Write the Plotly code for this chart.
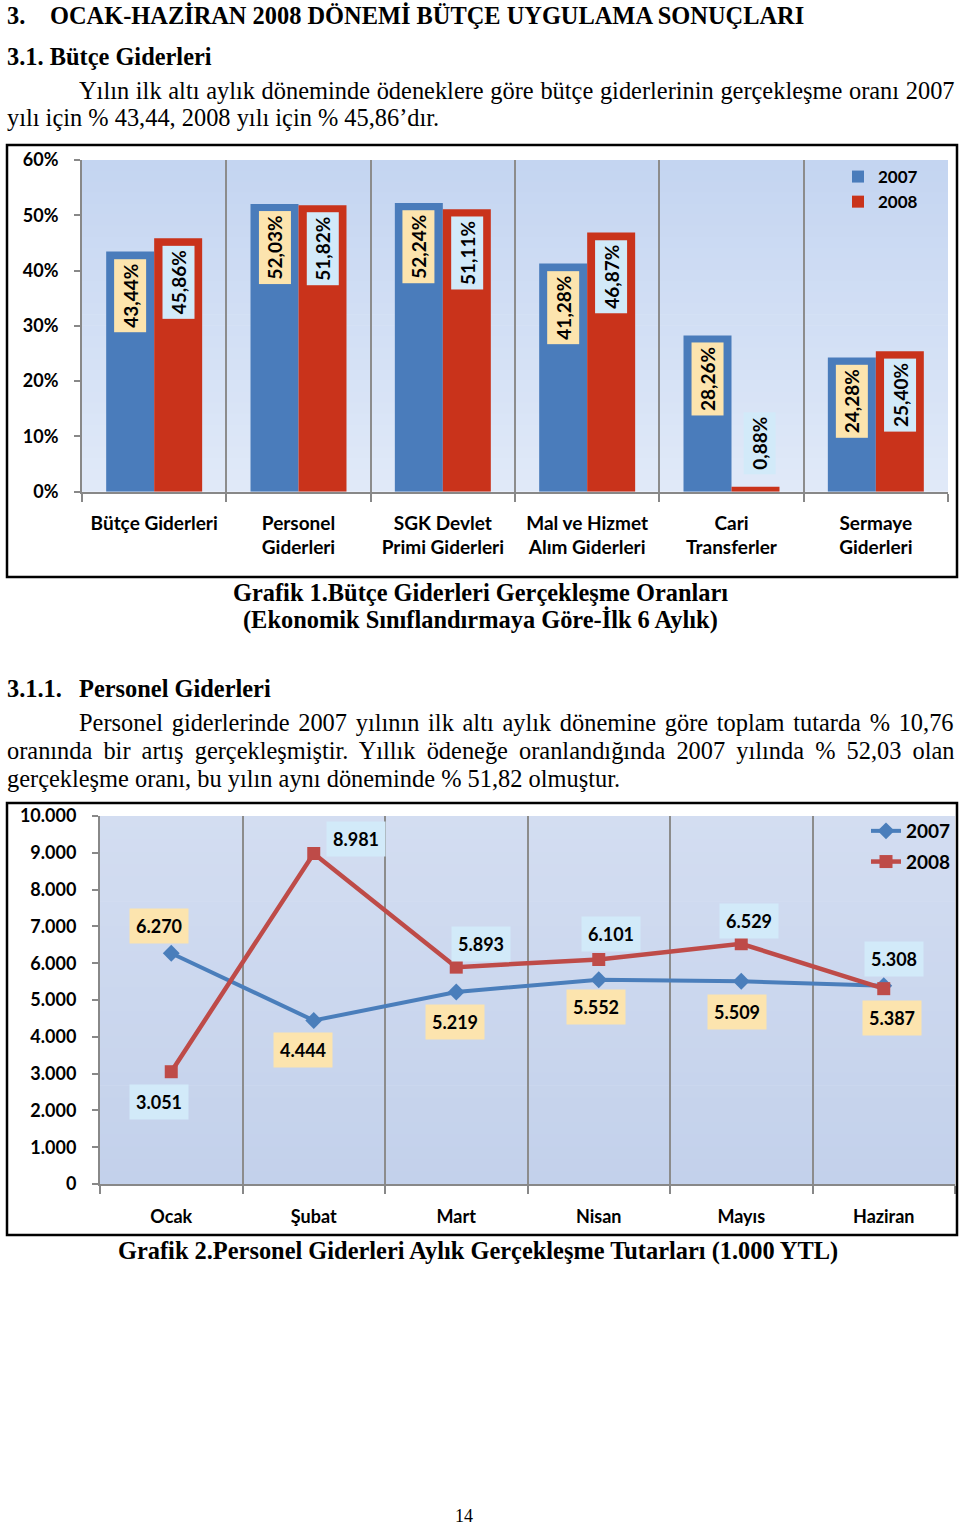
import plotly.graph_objects as go

W, H = 960, 1529

# ---------------- data ----------------
categories1 = ["Bütçe Giderleri", "Personel<br>Giderleri", "SGK Devlet<br>Primi Giderleri",
               "Mal ve Hizmet<br>Alım Giderleri", "Cari<br>Transferler", "Sermaye<br>Giderleri"]
rates_2007 = [43.44, 52.03, 52.24, 41.28, 28.26, 24.28]
rates_2008 = [45.86, 51.82, 51.11, 46.87, 0.88, 25.40]
pct_ticks = [0, 10, 20, 30, 40, 50, 60]
pct_tick_text = ["0%", "10%", "20%", "30%", "40%", "50%", "60%"]

months = ["Ocak", "Şubat", "Mart", "Nisan", "Mayıs", "Haziran"]
personel_2007 = [6270, 4444, 5219, 5552, 5509, 5387]
personel_2008 = [3051, 8981, 5893, 6101, 6529, 5308]
amount_ticks = [0, 1000, 2000, 3000, 4000, 5000, 6000, 7000, 8000, 9000, 10000]

# label offsets (pixels) for chart 2 data labels
off_2007 = [(-12, 27), (-11, -30), (-1, -30), (-3, -27), (-4, -31), (8, -32)]
off_2008 = [(-12, -30), (42, 15), (25, 23), (12, 25), (8, 23), (10, 30)]

SERIF = "Liberation Serif, Times New Roman, serif"
SANS = "Lato, Carlito, Calibri, sans-serif"
BLUE_BAR = "#4a7cbb"
RED_BAR = "#c9331b"
BLUE_LINE = "#4a7ebb"
RED_LINE = "#be4b48"
LBL_Y = "#fce4ae"
LBL_B = "#d2eaf9"
TXT = 24.4


def px(x):
    return x / W


def py(y):
    return 1 - y / H


def tr_num(v):
    return f"{v:,}".replace(",", ".")


fig = go.Figure()

# ---------------- chart 1 (bars) ----------------
fig.add_trace(go.Bar(x=categories1, y=rates_2007, name="2007", marker=dict(color=BLUE_BAR, line=dict(width=0)),
                     xaxis="x", yaxis="y", legend="legend"))
fig.add_trace(go.Bar(x=categories1, y=rates_2008, name="2008", marker=dict(color=RED_BAR, line=dict(width=0)),
                     xaxis="x", yaxis="y", legend="legend"))

annotations = []
for vals, shift, bg in [(rates_2007, -24, LBL_Y), (rates_2008, 24, LBL_B)]:
    for c, v in zip(categories1, vals):
        label = f"{v:.2f}".replace(".", ",") + "%"
        inside = v > 8
        annotations.append(dict(x=c, y=v, xref="x", yref="y",
                                xshift=shift if inside else shift + 4,
                                yshift=-7 if inside else 12,
                                yanchor="top" if inside else "bottom", xanchor="center",
                                textangle=-90, text=label,
                                showarrow=False, bgcolor=bg, borderpad=4,
                                font=dict(family=SANS, size=19, color="black", weight="bold")))

# ---------------- chart 2 (lines) ----------------
fig.add_trace(go.Scatter(x=months, y=personel_2007, name="2007", mode="lines+markers",
                         line=dict(color=BLUE_LINE, width=4),
                         marker=dict(symbol="diamond", size=13, color=BLUE_LINE),
                         xaxis="x2", yaxis="y2", legend="legend2", legendgroup="a"))
fig.add_trace(go.Scatter(x=months, y=personel_2008, name="2008", mode="lines+markers",
                         line=dict(color=RED_LINE, width=4.5),
                         marker=dict(symbol="square", size=13, color=RED_LINE),
                         xaxis="x2", yaxis="y2", legend="legend2", legendgroup="b"))

for vals, offs, bg in [(personel_2007, off_2007, LBL_Y), (personel_2008, off_2008, LBL_B)]:
    for m, v, (dx, dy) in zip(months, vals, offs):
        annotations.append(dict(x=m, y=v, xref="x2", yref="y2", xshift=dx, yshift=dy,
                                text=tr_num(v), showarrow=False, bgcolor=bg, borderpad=6,
                                font=dict(family=SANS, size=18, color="black", weight="bold")))


# ---------------- page text ----------------
def txt(x, y, s, size=TXT, bold=False, anchor="left", family=SERIF, ws=None):
    if ws:
        s = f'<span style="word-spacing:{ws}px">{s}</span>'
    annotations.append(dict(x=px(x), y=py(y), xref="paper", yref="paper", text=s, showarrow=False,
                            xanchor=anchor, yanchor="middle",
                            font=dict(family=family, size=size, color="black",
                                      weight="bold" if bold else "normal")))


txt(5, 16, "3.", bold=True)
txt(48, 16, "OCAK-HAZİRAN 2008 DÖNEMİ BÜTÇE UYGULAMA SONUÇLARI", bold=True)
txt(5, 57, "3.1. Bütçe Giderleri", bold=True)
txt(77, 90, "Yılın ilk altı aylık döneminde ödeneklere göre bütçe giderlerinin gerçekleşme oranı 2007", ws=0.6)
txt(5, 118, "yılı için % 43,44, 2008 yılı için % 45,86’dır.")
txt(480, 592, "Grafik 1.Bütçe Giderleri Gerçekleşme Oranları", bold=True, anchor="center")
txt(480, 620, "(Ekonomik Sınıflandırmaya Göre-İlk 6 Aylık)", bold=True, anchor="center")
txt(5, 688, "3.1.1.", bold=True)
txt(77, 688, "Personel Giderleri", bold=True)
txt(77, 722, "Personel giderlerinde 2007 yılının ilk altı aylık dönemine göre toplam tutarda % 10,76", ws=2.6)
txt(5, 750, "oranında bir artış gerçekleşmiştir. Yıllık ödeneğe oranlandığında 2007 yılında % 52,03 olan", ws=5.0)
txt(5, 778, "gerçekleşme oranı, bu yılın aynı döneminde % 51,82 olmuştur.")
txt(478, 1251, "Grafik 2.Personel Giderleri Aylık Gerçekleşme Tutarları (1.000 YTL)", bold=True, anchor="center")
txt(464, 1516, "14", size=18, anchor="center")

# ---------------- shapes: backgrounds & borders ----------------
shapes = []


def lerp(c1, c2, t):
    a = [int(c1[i:i + 2], 16) for i in (1, 3, 5)]
    b = [int(c2[i:i + 2], 16) for i in (1, 3, 5)]
    return "rgb(%d,%d,%d)" % tuple(round(a[k] + (b[k] - a[k]) * t) for k in range(3))


N = 30
for i in range(N):
    t = i / (N - 1)
    shapes.append(dict(type="rect", xref="x domain", yref="y domain", x0=0, x1=1,
                       y0=1 - (i + 1) / N, y1=min(1, 1 - i / N + 0.002), layer="below",
                       line=dict(width=0), fillcolor=lerp("#c4d5f1", "#e0e9f8", t)))
    shapes.append(dict(type="rect", xref="x2 domain", yref="y2 domain", x0=0, x1=1,
                       y0=1 - (i + 1) / N, y1=min(1, 1 - i / N + 0.002), layer="below",
                       line=dict(width=0), fillcolor=lerp("#d3ddf1", "#c3d1eb", t)))

shapes.append(dict(type="rect", xref="paper", yref="paper", x0=px(7), x1=px(957), y0=py(577), y1=py(145),
                   line=dict(color="black", width=2.5)))
shapes.append(dict(type="rect", xref="paper", yref="paper", x0=px(7), x1=px(957), y0=py(1235), y1=py(803),
                   line=dict(color="black", width=2.5)))

fig.update_layout(
    width=W, height=H, margin=dict(l=0, r=0, t=0, b=0, pad=0, autoexpand=False),
    paper_bgcolor="white", plot_bgcolor="rgba(0,0,0,0)",
    barmode="group", bargap=0.335, bargroupgap=0,
    separators=",.",
    xaxis=dict(domain=[px(82), px(948)], anchor="y", type="category", tickson="boundaries",
               range=[-0.5, 5.5],
               ticks="outside", ticklen=8, tickcolor="#888888", tickwidth=1.5,
               showgrid=True, gridcolor="#8c8c8c", gridwidth=1.5,
               showline=True, linecolor="#888888", linewidth=2, automargin=False,
               tickfont=dict(family=SANS, size=19, color="black", weight="bold"),
               ticklabelstandoff=13),
    yaxis=dict(domain=[py(491.7), py(160)], anchor="x", range=[0, 60], tickvals=pct_ticks,
               ticktext=pct_tick_text, automargin=False,
               ticks="outside", ticklen=6, tickcolor="#888888", tickwidth=1.5,
               showgrid=False, zeroline=False, showline=True, linecolor="#888888", linewidth=2,
               tickfont=dict(family=SANS, size=18, color="black", weight="bold"), ticklabelstandoff=12),
    xaxis2=dict(domain=[px(100), px(955)], anchor="y2", type="category", tickson="boundaries",
                range=[-0.5, 5.5],
                ticks="outside", ticklen=8, tickcolor="#888888", tickwidth=1.5,
                showgrid=True, gridcolor="#8c8c8c", gridwidth=1.5,
                showline=True, linecolor="#888888", linewidth=2, automargin=False,
                tickfont=dict(family=SANS, size=18, color="black", weight="bold"),
                ticklabelstandoff=15),
    yaxis2=dict(domain=[py(1184), py(816)], anchor="x2", range=[0, 10000], tickvals=amount_ticks,
                tickformat=",d", ticks="outside", ticklen=6, tickcolor="#888888", tickwidth=1.5,
                showgrid=False, zeroline=False, showline=True, linecolor="#888888", linewidth=2,
                automargin=False,
                tickfont=dict(family=SANS, size=18, color="black", weight="bold"), ticklabelstandoff=12),
    legend=dict(x=px(838), y=py(159), xanchor="left", yanchor="top", bgcolor="rgba(0,0,0,0)",
                font=dict(family=SANS, size=17, color="black", weight="bold"), itemwidth=30,
                tracegroupgap=0),
    legend2=dict(x=px(866), y=py(812), xanchor="left", yanchor="top", bgcolor="rgba(0,0,0,0)",
                 font=dict(family=SANS, size=19, color="black", weight="bold"), itemwidth=30,
                 traceorder="grouped", tracegroupgap=3),
    annotations=annotations,
    shapes=shapes,
)

fig.write_html("out.html", config={"displayModeBar": False},
               post_script="document.body.style.margin='0';document.body.style.padding='0';")
